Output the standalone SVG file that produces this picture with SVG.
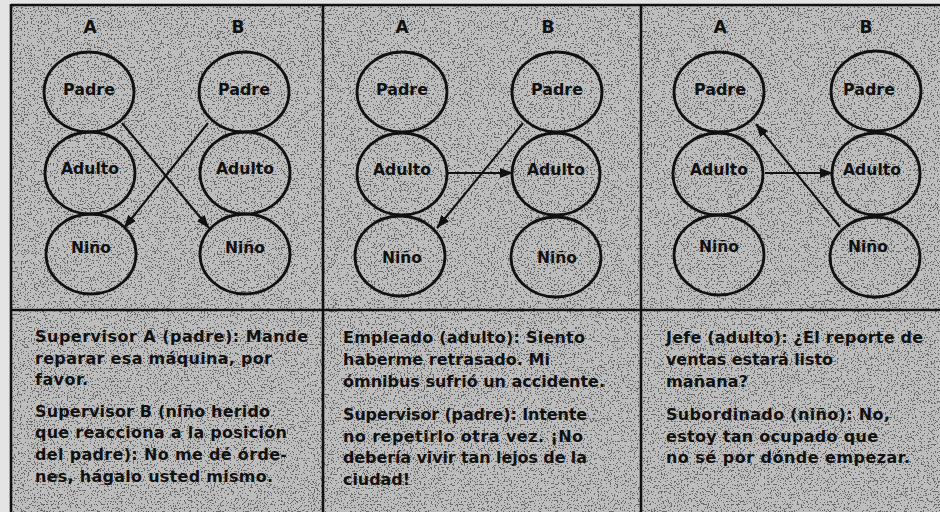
<svg xmlns="http://www.w3.org/2000/svg" width="940" height="512" viewBox="0 0 940 512">
<defs>
<filter id="speck" x="0" y="0" width="100%" height="100%" color-interpolation-filters="sRGB">
<feTurbulence type="fractalNoise" baseFrequency="0.7" numOctaves="1" seed="7" result="t"/>
<feColorMatrix in="t" type="matrix" values="0 0 0 0 0.35  0 0 0 0 0.35  0 0 0 0 0.35  3 0 0 0 -1.3"/>
<feComponentTransfer><feFuncA type="discrete" tableValues="0 0.85"/></feComponentTransfer>
</filter>
<marker id="ah" markerUnits="userSpaceOnUse" markerWidth="14" markerHeight="10" refX="13" refY="5" orient="auto">
<path d="M0,0 L13,5 L0,10 z" fill="#111"/>
</marker>
</defs>
<style>
.bd{stroke:#111;stroke-width:2.6;fill:none}
.nd{fill:none;stroke:#111;stroke-width:2.8}
.lb{font-family:"DejaVu Sans",sans-serif;font-size:15px;font-weight:bold;fill:#111;text-anchor:middle}
.hd{font-family:"DejaVu Sans",sans-serif;font-size:17px;font-weight:bold;fill:#111;text-anchor:middle}
.tx{font-family:"DejaVu Sans",sans-serif;font-size:16px;font-weight:bold;fill:#111}
.cn{stroke:#111;stroke-width:2.2;fill:none;marker-end:url(#ah)}
</style>
<rect x="0" y="0" width="940" height="512" fill="#e4e4e4"/>
<rect x="11" y="5" width="929" height="507" fill="#bdbdbd"/>
<rect x="11" y="5" width="929" height="507" filter="url(#speck)"/>
<g id="frame">
<line class="bd" x1="11" y1="5" x2="940" y2="5"/>
<line class="bd" x1="11" y1="4" x2="11" y2="512"/>
<line class="bd" x1="323" y1="5" x2="323" y2="512"/>
<line class="bd" x1="641" y1="5" x2="641" y2="512"/>
<line class="bd" x1="11" y1="310" x2="940" y2="310"/>
</g>
<g id="headers">
<text class="hd" x="90" y="33">A</text>
<text class="hd" x="238" y="33">B</text>
<text class="hd" x="402" y="33">A</text>
<text class="hd" x="548" y="33">B</text>
<text class="hd" x="720" y="33">A</text>
<text class="hd" x="866" y="33">B</text>
</g>
<g id="p1-a-padre"><ellipse class="nd" cx="89" cy="92" rx="45" ry="40"/><text class="lb" x="89" y="95" textLength="52" lengthAdjust="spacingAndGlyphs">Padre</text></g>
<g id="p1-a-adulto"><ellipse class="nd" cx="90" cy="173" rx="45" ry="41"/><text class="lb" x="90" y="174" textLength="58" lengthAdjust="spacingAndGlyphs">Adulto</text></g>
<g id="p1-a-nino"><ellipse class="nd" cx="91" cy="254" rx="45" ry="40"/><text class="lb" x="91" y="253" textLength="40" lengthAdjust="spacingAndGlyphs">Niño</text></g>
<g id="p1-b-padre"><ellipse class="nd" cx="244" cy="92" rx="45" ry="40"/><text class="lb" x="244" y="95" textLength="52" lengthAdjust="spacingAndGlyphs">Padre</text></g>
<g id="p1-b-adulto"><ellipse class="nd" cx="245" cy="173" rx="45" ry="41"/><text class="lb" x="245" y="174" textLength="58" lengthAdjust="spacingAndGlyphs">Adulto</text></g>
<g id="p1-b-nino"><ellipse class="nd" cx="245" cy="254" rx="45" ry="40"/><text class="lb" x="245" y="253" textLength="40" lengthAdjust="spacingAndGlyphs">Niño</text></g>
<g id="p2-a-padre"><ellipse class="nd" cx="402" cy="92" rx="45" ry="40"/><text class="lb" x="402" y="95" textLength="52" lengthAdjust="spacingAndGlyphs">Padre</text></g>
<g id="p2-a-adulto"><ellipse class="nd" cx="402" cy="174" rx="45" ry="41"/><text class="lb" x="402" y="175" textLength="58" lengthAdjust="spacingAndGlyphs">Adulto</text></g>
<g id="p2-a-nino"><ellipse class="nd" cx="400" cy="256" rx="45" ry="40"/><text class="lb" x="402" y="263" textLength="40" lengthAdjust="spacingAndGlyphs">Niño</text></g>
<g id="p2-b-padre"><ellipse class="nd" cx="557" cy="92" rx="45" ry="40"/><text class="lb" x="557" y="95" textLength="52" lengthAdjust="spacingAndGlyphs">Padre</text></g>
<g id="p2-b-adulto"><ellipse class="nd" cx="556" cy="174" rx="44" ry="41"/><text class="lb" x="556" y="175" textLength="58" lengthAdjust="spacingAndGlyphs">Adulto</text></g>
<g id="p2-b-nino"><ellipse class="nd" cx="556" cy="257" rx="45" ry="40"/><text class="lb" x="557" y="263" textLength="40" lengthAdjust="spacingAndGlyphs">Niño</text></g>
<g id="p3-a-padre"><ellipse class="nd" cx="719" cy="92" rx="45" ry="40"/><text class="lb" x="720" y="95" textLength="52" lengthAdjust="spacingAndGlyphs">Padre</text></g>
<g id="p3-a-adulto"><ellipse class="nd" cx="718" cy="174" rx="45" ry="41"/><text class="lb" x="719" y="175" textLength="58" lengthAdjust="spacingAndGlyphs">Adulto</text></g>
<g id="p3-a-nino"><ellipse class="nd" cx="719" cy="255" rx="45" ry="40"/><text class="lb" x="719" y="252" textLength="40" lengthAdjust="spacingAndGlyphs">Niño</text></g>
<g id="p3-b-padre"><ellipse class="nd" cx="876" cy="91" rx="45" ry="40"/><text class="lb" x="869" y="95" textLength="52" lengthAdjust="spacingAndGlyphs">Padre</text></g>
<g id="p3-b-adulto"><ellipse class="nd" cx="876" cy="174" rx="44" ry="41"/><text class="lb" x="872" y="175" textLength="58" lengthAdjust="spacingAndGlyphs">Adulto</text></g>
<g id="p3-b-nino"><ellipse class="nd" cx="875" cy="257" rx="45" ry="40"/><text class="lb" x="868" y="252" textLength="40" lengthAdjust="spacingAndGlyphs">Niño</text></g>
<g id="connectors">
<line class="cn" x1="122" y1="123" x2="209" y2="228"/>
<line class="cn" x1="208" y1="123" x2="124" y2="228"/>
<line class="cn" x1="447" y1="173" x2="513" y2="173"/>
<line class="cn" x1="523" y1="123" x2="437" y2="228"/>
<line class="cn" x1="765" y1="173" x2="833" y2="173"/>
<line class="cn" x1="840" y1="227" x2="756" y2="124"/>
</g>
<g id="text1" class="tx">
<text x="35" y="342" textLength="273" lengthAdjust="spacing">Supervisor A (padre): Mande</text>
<text x="35" y="364" textLength="237" lengthAdjust="spacing">reparar esa máquina, por</text>
<text x="35" y="385" textLength="53" lengthAdjust="spacing">favor.</text>
<text x="35" y="417" textLength="235" lengthAdjust="spacing">Supervisor B (niño herido</text>
<text x="35" y="438" textLength="252" lengthAdjust="spacing">que reacciona a la posición</text>
<text x="35" y="460" textLength="252" lengthAdjust="spacing">del padre): No me dé órde-</text>
<text x="35" y="482" textLength="238" lengthAdjust="spacing">nes, hágalo usted mismo.</text>
</g>
<g id="text2" class="tx">
<text x="343" y="343" textLength="242" lengthAdjust="spacing">Empleado (adulto): Siento</text>
<text x="343" y="365" textLength="207" lengthAdjust="spacing">haberme retrasado. Mi</text>
<text x="343" y="387" textLength="262" lengthAdjust="spacing">ómnibus sufrió un accidente.</text>
<text x="343" y="420" textLength="244" lengthAdjust="spacing">Supervisor (padre): Intente</text>
<text x="343" y="442" textLength="240" lengthAdjust="spacing">no repetirlo otra vez. ¡No</text>
<text x="343" y="463" textLength="244" lengthAdjust="spacing">debería vivir tan lejos de la</text>
<text x="343" y="485" textLength="67" lengthAdjust="spacing">ciudad!</text>
</g>
<g id="text3" class="tx">
<text x="666" y="343" textLength="257" lengthAdjust="spacing">Jefe (adulto): ¿El reporte de</text>
<text x="666" y="365" textLength="167" lengthAdjust="spacing">ventas estará listo</text>
<text x="666" y="387" textLength="82" lengthAdjust="spacing">mañana?</text>
<text x="666" y="420" textLength="224" lengthAdjust="spacing">Subordinado (niño): No,</text>
<text x="666" y="442" textLength="212" lengthAdjust="spacing">estoy tan ocupado que</text>
<text x="666" y="463" textLength="244" lengthAdjust="spacing">no sé por dónde empezar.</text>
</g>
</svg>
